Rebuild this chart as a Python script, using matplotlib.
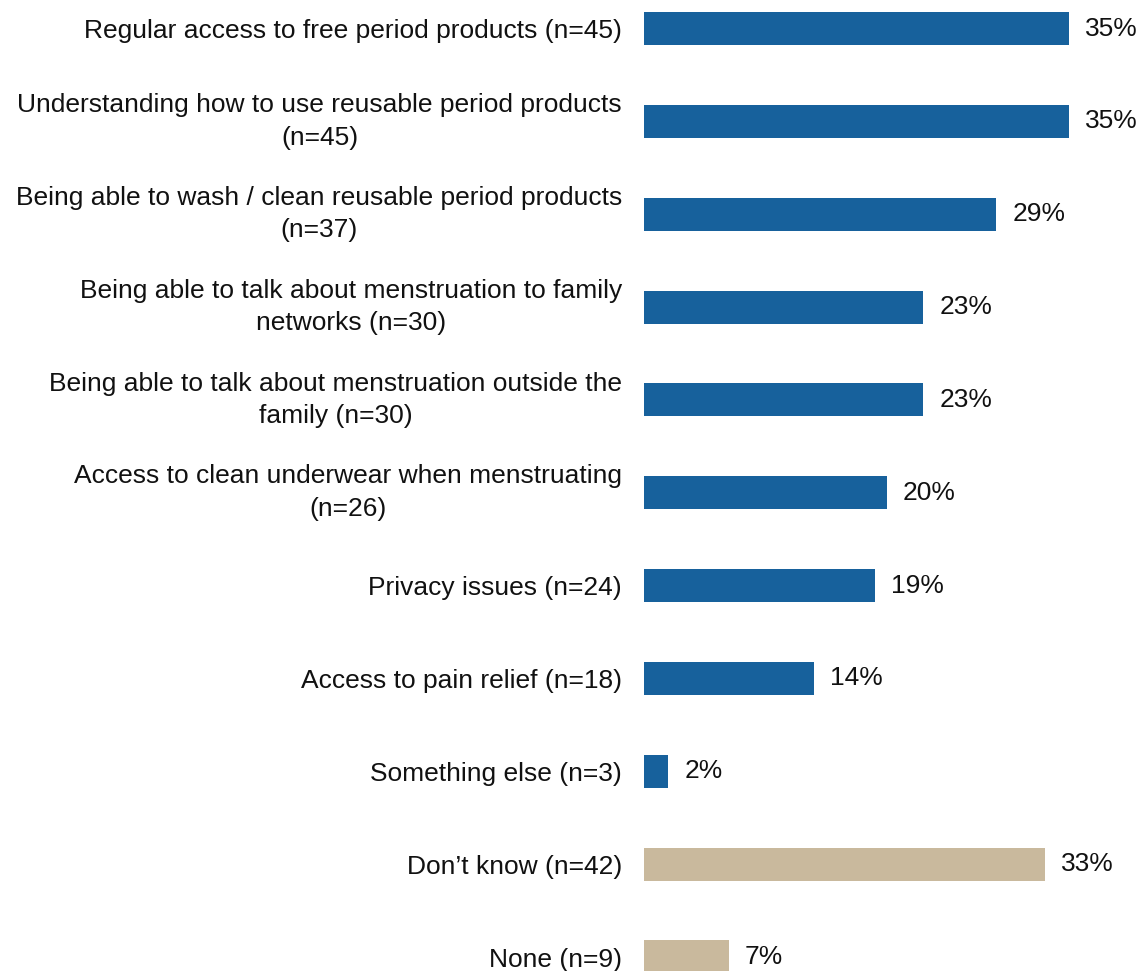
import matplotlib.pyplot as plt
import numpy as np

# Survey answers, top to bottom
labels = [
    "Regular access to free period products (n=45)",
    "Understanding how to use reusable period products\n(n=45)",
    "Being able to wash / clean reusable period products\n(n=37)",
    "Being able to talk about menstruation to family\nnetworks (n=30)",
    "Being able to talk about menstruation outside the\nfamily (n=30)",
    "Access to clean underwear when menstruating\n(n=26)",
    "Privacy issues (n=24)",
    "Access to pain relief (n=18)",
    "Something else (n=3)",
    "Don\u2019t know (n=42)",
    "None (n=9)",
]
values = [35, 35, 29, 23, 23, 20, 19, 14, 2, 33, 7]
groups = ["answer"] * 9 + ["other"] * 2

BLUE = "#17619C"
TAN = "#C9B99D"
TEXT = "#111111"

plt.rcParams['font.family'] = ['Liberation Sans', 'DejaVu Sans']

W, H, DPI = 1145, 971, 100
fig = plt.figure(figsize=(W / DPI, H / DPI), dpi=DPI, facecolor='white')

# bars start at x=644 px; ~12 px per percentage point
left_px = 644
px_per_unit = 12.15
ax = fig.add_axes([left_px / W, 0, 1 - left_px / W, 1])
ax.set_xlim(0, (W - left_px) / px_per_unit)

row_px = 92.85
top_px = 28.5
y = np.arange(len(values))
ax.set_ylim(len(values) - 1 + (H - 957) / row_px, -top_px / row_px)

colors = [BLUE if g == "answer" else TAN for g in groups]
bars = ax.barh(y, values, height=33 / row_px, color=colors, edgecolor='none')

ax.bar_label(bars, labels=[f"{v}%" for v in values], padding=11.5,
             fontsize=19, color=TEXT)

ax.set_yticks(y)
ax.set_yticklabels(labels, fontsize=19, color=TEXT)
for t in ax.get_yticklabels():
    t.set_multialignment('center')
    t.set_linespacing(1.45)
    if "\n" in t.get_text():
        t.set_verticalalignment('center')
ax.tick_params(axis='y', length=0, pad=15.8)
ax.set_xticks([])

for spine in ax.spines.values():
    spine.set_visible(False)

fig.savefig("out.png", dpi=DPI, facecolor='white')
